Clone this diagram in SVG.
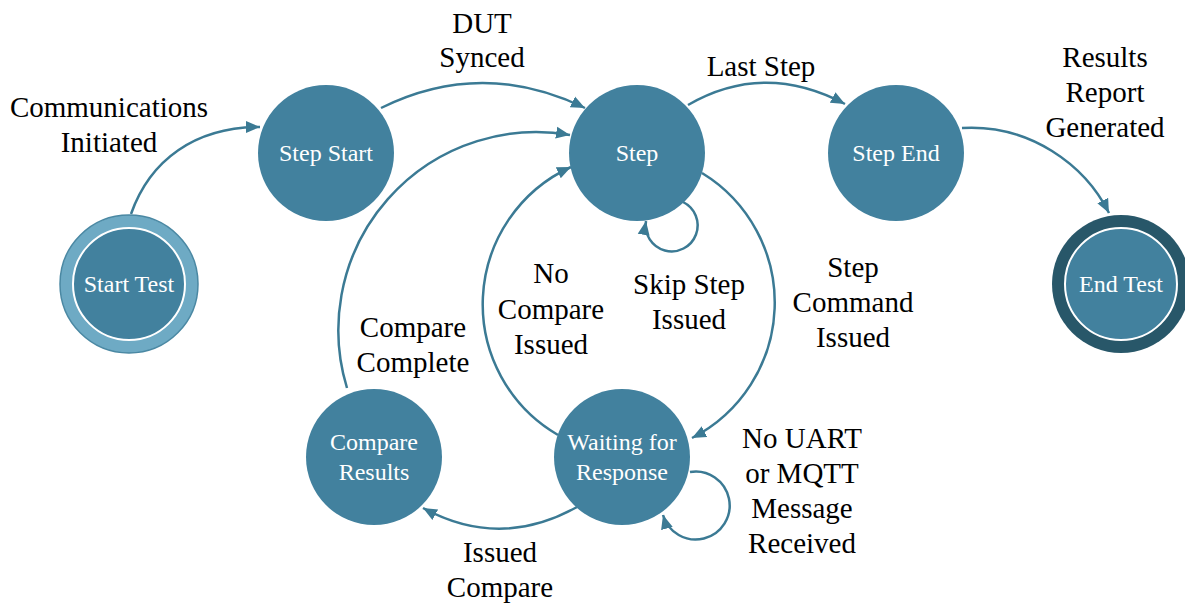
<svg xmlns="http://www.w3.org/2000/svg" width="1185" height="604" viewBox="0 0 1185 604">
  <style>
    .node { fill: #42819e; }
    .ntext { font-family: "Liberation Serif", "Times New Roman", serif; font-size: 24px; fill: #ffffff; text-anchor: middle; }
    .label { font-family: "Liberation Serif", "Times New Roman", serif; font-size: 29px; fill: #000000; text-anchor: middle; }
    .edge { fill: none; stroke: #3b7a94; stroke-width: 2.5; marker-end: url(#arrow); }
  </style>
  <defs>
    <marker id="arrow" markerUnits="userSpaceOnUse" markerWidth="16" markerHeight="14" refX="14" refY="7" orient="auto">
      <path d="M0,1 L14,7 L0,13 Z" fill="#3b7a94"/>
    </marker>
  </defs>

  <rect width="1185" height="604" fill="#ffffff"/>

  <!-- transitions -->
  <g id="connectors">
    <path class="edge" d="M131,214 C150,160 195,127 260,127"/>
    <path class="edge" d="M381,108 Q482,58 585,108"/>
    <path class="edge" d="M688,105 Q764,61 845,104"/>
    <path class="edge" d="M962,128 C1030,124 1085,165 1109,213"/>
    <path class="edge" d="M702,173 A152,152 0 0 1 692,438"/>
    <path class="edge" d="M558,435 A151,151 0 0 1 571,167"/>
    <path class="edge" d="M347,388 A198,198 0 0 1 570,135"/>
    <path class="edge" d="M577,507 Q500,550 423,508"/>
    <path class="edge" d="M683,202 A26,26 0 1 1 646,221"/>
    <path class="edge" d="M690,472 A34,34 0 1 1 663,515"/>
  </g>

  <!-- states -->
  <g id="start-test">
    <circle cx="129" cy="284" r="69" fill="#6eaac4" stroke="#4a88a3" stroke-width="1.5"/>
    <circle cx="129" cy="284" r="56" class="node" stroke="#ffffff" stroke-width="2"/>
    <text class="ntext" x="129" y="292">Start Test</text>
  </g>
  <g id="step-start">
    <circle cx="326" cy="153" r="68" class="node"/>
    <text class="ntext" x="326" y="161">Step Start</text>
  </g>
  <g id="step">
    <circle cx="637" cy="153" r="68" class="node"/>
    <text class="ntext" x="637" y="161">Step</text>
  </g>
  <g id="step-end">
    <circle cx="896" cy="153" r="68" class="node"/>
    <text class="ntext" x="896" y="161">Step End</text>
  </g>
  <g id="end-test">
    <circle cx="1121" cy="284" r="69" fill="#285769"/>
    <circle cx="1121" cy="284" r="56" class="node" stroke="#ffffff" stroke-width="2"/>
    <text class="ntext" x="1121" y="292">End Test</text>
  </g>
  <g id="waiting-for-response">
    <circle cx="622" cy="457" r="68" class="node"/>
    <text class="ntext" x="622" y="450">Waiting for</text>
    <text class="ntext" x="622" y="480">Response</text>
  </g>
  <g id="compare-results">
    <circle cx="374" cy="457" r="68" class="node"/>
    <text class="ntext" x="374" y="450">Compare</text>
    <text class="ntext" x="374" y="480">Results</text>
  </g>

  <!-- transition labels -->
  <g id="labels">
    <text class="label" x="109" y="117">Communications</text>
    <text class="label" x="109" y="152">Initiated</text>
    <text class="label" x="482" y="33">DUT</text>
    <text class="label" x="482" y="67">Synced</text>
    <text class="label" x="761" y="76">Last Step</text>
    <text class="label" x="1105" y="67">Results</text>
    <text class="label" x="1105" y="102">Report</text>
    <text class="label" x="1105" y="137">Generated</text>
    <text class="label" x="689" y="294">Skip Step</text>
    <text class="label" x="689" y="329">Issued</text>
    <text class="label" x="551" y="283">No</text>
    <text class="label" x="551" y="319">Compare</text>
    <text class="label" x="551" y="354">Issued</text>
    <text class="label" x="853" y="277">Step</text>
    <text class="label" x="853" y="312">Command</text>
    <text class="label" x="853" y="347">Issued</text>
    <text class="label" x="413" y="337">Compare</text>
    <text class="label" x="413" y="372">Complete</text>
    <text class="label" x="802" y="448">No UART</text>
    <text class="label" x="802" y="483">or MQTT</text>
    <text class="label" x="802" y="518">Message</text>
    <text class="label" x="802" y="553">Received</text>
    <text class="label" x="500" y="562">Issued</text>
    <text class="label" x="500" y="597">Compare</text>
  </g>
</svg>
